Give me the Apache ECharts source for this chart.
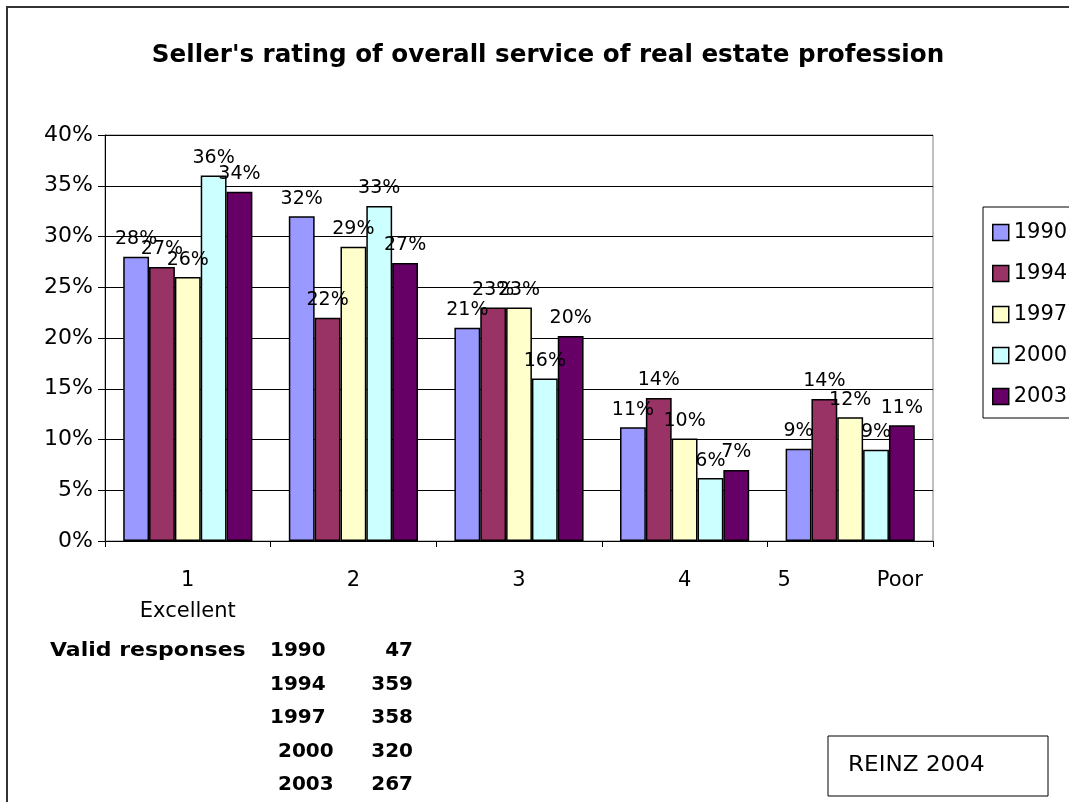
<!DOCTYPE html>
<html>
<head>
<meta charset="utf-8">
<script src="https://cdn.jsdelivr.net/npm/echarts@6/dist/echarts.min.js"></script>
<style>
  html, body { margin: 0; padding: 0; background: #fff; }
  #chart { width: 1069px; height: 802px; }
</style>
</head>
<body>
<div id="chart"></div>
<script>
// 数据
var categories = ['1', '2', '3', '4', '5'];
var years = ['1990', '1994', '1997', '2000', '2003'];
var s1990 = [28, 32, 21, 11.2, 9.1];
var s1994 = [27, 22, 23, 14.1, 14];
var s1997 = [26, 29, 23, 10.1, 12.2];
var s2000 = [36, 33, 16, 6.2, 9];
var s2003 = [34.4, 27.4, 20.2, 7, 11.4];
var yTicks = [0, 5, 10, 15, 20, 25, 30, 35, 40];
var responseYears = ['1990', '1994', '1997', '2000', '2003'];
var responseCounts = ['47', '359', '358', '320', '267'];

(function () {
  var myChart = echarts.init(document.getElementById('chart'));
  var colors = ['#9999ff', '#993366', '#ffffcc', '#ccffff', '#660066'];
  var seriesData = [s1990, s1994, s1997, s2000, s2003];
  var font = 'DejaVu Sans, sans-serif';

  var series = years.map(function (y, i) {
    return {
      name: y,
      type: 'bar',
      barGap: '0%',
      barCategoryGap: '22%',
      data: seriesData[i],
      itemStyle: {
        color: colors[i],
        borderColor: '#000',
        borderWidth: 1.5
      },
      label: {
        show: true,
        position: 'top',
        distance: 8,
        color: '#000',
        fontFamily: font,
        fontSize: 19,
        formatter: function (p) { return Math.round(p.value) + '%'; }
      }
    };
  });

  // 下方 "Valid responses" 表格
  var graphics = [
    // 外框
    {
      type: 'rect',
      shape: { x: 7, y: 7, width: 1100, height: 850 },
      style: { fill: 'none', stroke: '#333', lineWidth: 2 },
      z: -1
    },
    {
      type: 'text', x: 50, y: 641, scaleX: 1.1,
      style: { text: 'Valid responses', font: 'bold 20px ' + font, fill: '#000' }
    },
    {
      type: 'rect',
      shape: { x: 828, y: 736, width: 220, height: 60 },
      style: { fill: '#fff', stroke: '#000', lineWidth: 1 }
    },
    {
      type: 'text', x: 848, y: 755, scaleX: 1.1,
      style: { text: 'REINZ 2004', font: '21px ' + font, fill: '#000' }
    }
  ];
  var yearX = [270, 270, 270, 278, 278];
  responseYears.forEach(function (y, i) {
    graphics.push({
      type: 'text', left: yearX[i], top: 641 + i * 33.5,
      style: { text: y, font: 'bold 20px ' + font, fill: '#000' }
    });
    graphics.push({
      type: 'text', right: 1069 - 413, top: 641 + i * 33.5,
      style: { text: responseCounts[i], font: 'bold 20px ' + font, fill: '#000', align: 'right' }
    });
  });

  var option = {
    backgroundColor: '#fff',
    animation: false,
    title: {
      text: "Seller's rating of overall service of real estate profession",
      left: 543,
      textAlign: 'center',
      top: 38,
      textStyle: { fontFamily: font, fontSize: 24.6, fontWeight: 'bold', color: '#000' }
    },
    legend: {
      orient: 'vertical',
      left: 983,
      top: 207,
      padding: [15, 20, 11, 9],
      itemGap: 20,
      itemWidth: 16,
      itemHeight: 16,
      borderColor: '#000',
      borderWidth: 1,
      backgroundColor: '#fff',
      textStyle: { fontFamily: font, fontSize: 21, color: '#000' },
      data: years.map(function (y) {
        return { name: y, icon: 'rect', itemStyle: { borderColor: '#000', borderWidth: 1.5 } };
      })
    },
    grid: {
      left: 105,
      right: 136,
      top: 135,
      bottom: 261,
      show: true,
      borderColor: '#808080',
      borderWidth: 1
    },
    xAxis: {
      type: 'category',
      data: categories,
      axisLine: { lineStyle: { color: '#000', width: 1 } },
      axisTick: { show: true, interval: 0, length: 6, lineStyle: { color: '#000' } },
      axisLabel: {
        interval: 0,
        margin: 24,
        color: '#000',
        fontFamily: font,
        fontSize: 21,
        lineHeight: 31,
        formatter: function (v) {
          if (v === '1') return '1\nExcellent';
          if (v === '5') return '{n|5}{gap|}{n|Poor}';
          return v;
        },
        rich: {
          n: { fontFamily: font, fontSize: 21, color: '#000' },
          gap: { width: 86 }
        }
      }
    },
    yAxis: {
      type: 'value',
      min: 0,
      max: 40,
      interval: 5,
      axisLine: { show: true, lineStyle: { color: '#000', width: 1 } },
      axisTick: { show: true, length: 7, lineStyle: { color: '#000' } },
      splitLine: { lineStyle: { color: '#000', width: 1 } },
      axisLabel: {
        margin: 12,
        color: '#000',
        fontFamily: font,
        fontSize: 22,
        formatter: function (v) { return yTicks.indexOf(v) >= 0 ? v + '%' : ''; }
      }
    },
    graphic: graphics,
    series: series
  };

  myChart.setOption(option);
  window.addEventListener('resize', function () {
    myChart.resize();
  });
})();
</script>
</body>
</html>
